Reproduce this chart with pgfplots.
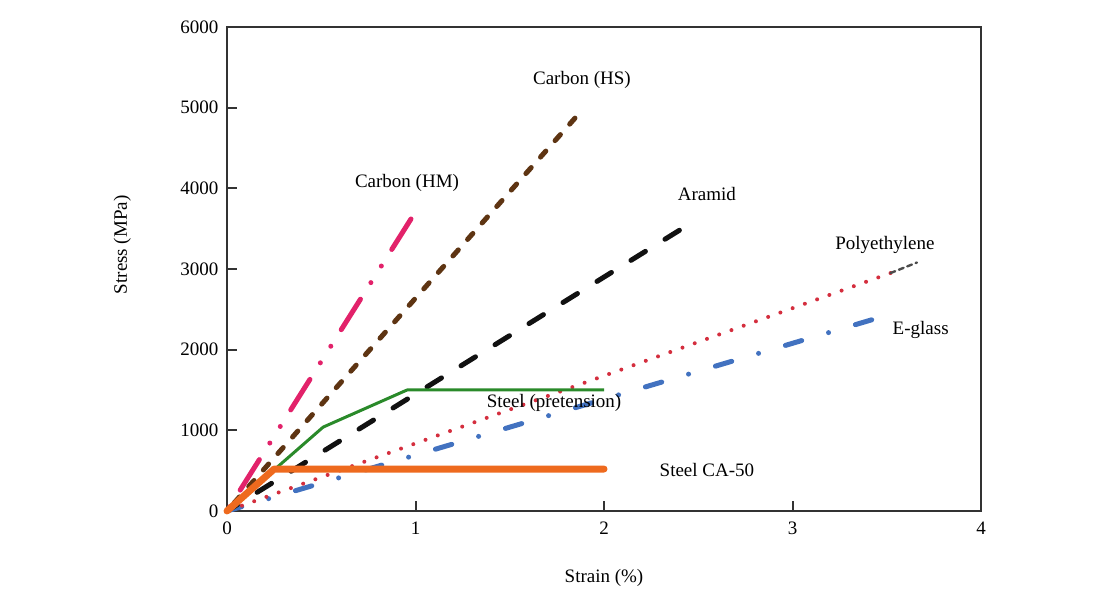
\documentclass[border=0pt]{standalone}
\usepackage{pgfplots}
\pgfplotsset{compat=1.18}
\usepackage{fontspec}
\setmainfont{Liberation Serif}

\definecolor{hmpink}{HTML}{E2226A}
\definecolor{hsbrown}{HTML}{5E3412}
\definecolor{aramidblk}{HTML}{111111}
\definecolor{pered}{HTML}{D42E3E}
\definecolor{eglass}{HTML}{4272C0}
\definecolor{steelgreen}{HTML}{2A8A2A}
\definecolor{ca50}{HTML}{EE6A1E}
\definecolor{axisgray}{HTML}{333333}

\begin{document}
\fontsize{9.5}{11.5}\selectfont
\begin{tikzpicture}
\begin{axis}[
  scale only axis,
  width=377pt, height=242pt,
  xmin=0, xmax=4, ymin=0, ymax=6000,
  xtick={0,1,2,3,4}, ytick={0,1000,...,6000},
  tick pos=left, tick align=inside,
  major tick length=5pt,
  axis line style={axisgray, line width=1pt},
  every tick/.style={axisgray, line width=1pt},
  /pgf/number format/assume math mode=true,
  /pgf/number format/1000 sep={},
  scaled y ticks=false,
  tick label style={font=\fontsize{9.5}{11.5}\selectfont},
  xticklabel style={yshift=-2pt},
  yticklabel style={xshift=-1pt},
  xlabel={Strain (\%)}, ylabel={Stress (MPa)},
  label style={font=\fontsize{9.5}{11.5}\selectfont},
  xlabel style={at={(axis description cs:0.5,-0.138)}, anchor=center},
  ylabel style={at={(axis description cs:-0.139,0.55)}, anchor=center, rotate=0},
  clip=false,
]
\coordinate (BL) at (rel axis cs:0,0);
\coordinate (TR) at (rel axis cs:1,1);

% The dashed series run from their end point back to the origin,
% so that each one finishes on a full dash.
% E-glass: dash-dot
\addplot[eglass, line width=2.5pt, line cap=round,
  dash pattern=on 8.5pt off 14pt on 0pt off 14pt]
  coordinates {(3.42,2370) (0,0)};
% Polyethylene: dotted
\addplot[pered, line width=2pt, line cap=round,
  dash pattern=on 0pt off 6.5pt]
  coordinates {(3.52,2950) (0,0)};
\addplot[black!70, line width=1.2pt, line cap=round,
  dash pattern=on 2.5pt off 2pt]
  coordinates {(3.52,2950) (3.66,3080)};
% Aramid: long dashes
\addplot[aramidblk, line width=2.5pt, line cap=round,
  dash pattern=on 8.5pt off 11.5pt]
  coordinates {(2.40,3480) (0,0)};
% Carbon (HS): short dashes
\addplot[hsbrown, line width=2.5pt, line cap=round,
  dash pattern=on 4pt off 7pt]
  coordinates {(1.846,4870) (0,0)};
% Carbon (HM): dash-dot-dot
\addplot[hmpink, line width=2.5pt, line cap=round,
  dash pattern=on 18pt off 9.8pt on 0pt off 9.8pt on 0pt off 9.8pt]
  coordinates {(0.976,3620) (0,0)};
% Steel (pretension)
\addplot[steelgreen, line width=1.5pt, line join=round]
  coordinates {(0,0) (0.51,1040) (0.955,1500) (2.0,1500)};
% Steel CA-50
\addplot[ca50, line width=3.5pt, line cap=round, line join=round]
  coordinates {(0,0) (0.25,520) (2.0,520)};

\node at (axis cs:1.883,5340) {Carbon (HS)};
\node at (axis cs:0.955,4065) {Carbon (HM)};
\node at (axis cs:2.546,3930) {Aramid};
\node at (axis cs:3.49,3296) {Polyethylene};
\node at (axis cs:3.68,2243) {E-glass};
\node at (axis cs:1.735,1338) {Steel (pretension)};
\node at (axis cs:2.546,508) {Steel CA-50};
\end{axis}
\pgfresetboundingbox
\useasboundingbox ([shift={(-113.5pt,-43pt)}]BL) rectangle ([shift={(61.5pt,13.5pt)}]TR);
\end{tikzpicture}
\end{document}
